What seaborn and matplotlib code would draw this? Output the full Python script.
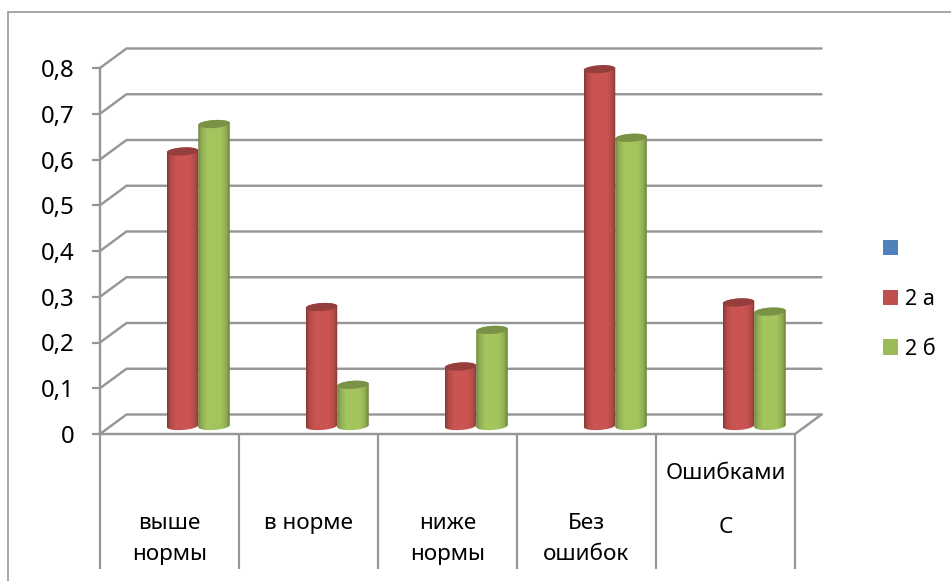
import numpy as np
import pandas as pd
import seaborn as sns
import matplotlib
matplotlib.use("Agg")
import matplotlib.pyplot as plt
from matplotlib.colors import LinearSegmentedColormap, to_rgb
from matplotlib.patches import Patch, PathPatch, Polygon, Rectangle
from matplotlib.path import Path
from matplotlib.transforms import ScaledTranslation

categories = ["выше\nнормы", "в норме", "ниже\nнормы", "Без\nошибок", "Ошибками\nС"]
series_blank = [np.nan, np.nan, np.nan, np.nan, np.nan]
series_2a = [0.60, 0.26, 0.13, 0.78, 0.27]
series_2b = [0.66, 0.09, 0.21, 0.63, 0.25]
series_names = [" ", "2 а", "2 б"]
palette = ["#4F81BD", "#C0504D", "#9BBB59"]
y_ticks = [0, 0.1, 0.2, 0.3, 0.4, 0.5, 0.6, 0.7, 0.8]
y_tick_labels = ["0", "0,1", "0,2", "0,3", "0,4", "0,5", "0,6", "0,7", "0,8"]

GREY = "#969696"
W, H, DPI = 951, 581, 100
px = 72 / DPI

sns.set_theme(style="white")
plt.rcParams["font.family"] = ["Noto Sans", "DejaVu Sans"]
plt.rcParams["text.color"] = "black"

fig = plt.figure(figsize=(W / DPI, H / DPI), dpi=DPI)
fig.patch.set_facecolor("white")
ax = fig.add_axes([100 / W, (H - 434) / H, 695 / W, 366 / H])
ax.set_facecolor("none")

df = pd.DataFrame({
    "category": categories * 3,
    "series": np.repeat(series_names, len(categories)),
    "value": series_blank + series_2a + series_2b,
})
sns.barplot(data=df, x="category", y="value", hue="series", hue_order=series_names,
            palette=palette, width=0.68, gap=0, saturation=1, legend=False, ax=ax, errorbar=None)

xlim = (-0.5, len(categories) - 0.5)
ylim = (0, 0.8)
ax.set_xlim(*xlim)
ax.set_ylim(*ylim)
ax.set_xlabel("")
ax.set_ylabel("")

# Cartesian depth of the pseudo-3D box
dx = 26.5 / 695 * (xlim[1] - xlim[0])
dy = 19.5 / 366 * (ylim[1] - ylim[0])
for t in y_ticks:
    ax.plot([xlim[0], xlim[0] + dx, xlim[1] + dx], [t, t + dy, t + dy], color=GREY,
            lw=2.4 * px, clip_on=False, zorder=1, solid_joinstyle="miter")
ax.plot([xlim[1], xlim[1] + dx], [0, dy], color=GREY, lw=2.4 * px, clip_on=False, zorder=1)

# Cylinders built from the seaborn bars
shift = ax.transData + ScaledTranslation(13 / DPI, 8 / DPI, fig.dpi_scale_trans)
ell_b = 4 / 366 * 0.8
tilt = 1 / 366 * 0.8
t_par = np.linspace(0, 2 * np.pi, 60)
grad = np.linspace(0, 1, 64).reshape(1, -1)
for p in list(ax.patches):
    h = p.get_height()
    p.set_visible(False)
    if not np.isfinite(h) or h <= 0:
        continue
    base = np.array(to_rgb(p.get_facecolor()))
    x0, w = p.get_x(), p.get_width()
    cx = x0 + w / 2
    cmap = LinearSegmentedColormap.from_list("cyl", [
        (0.00, base * 0.70), (0.10, base * 0.93), (0.30, base * 1.06),
        (0.72, base * 1.05), (0.90, base * 0.92), (1.00, base * 0.68)])
    lower = np.linspace(np.pi, 2 * np.pi, 30)
    upper = np.linspace(0, np.pi, 30)
    xs = np.r_[cx + w / 2 * np.cos(lower), cx + w / 2 * np.cos(upper)]
    ys = np.r_[ell_b * np.sin(lower) + tilt * np.cos(lower),
               h + ell_b * np.sin(upper) + tilt * np.cos(upper)]
    im = ax.imshow(grad, cmap=cmap, extent=(x0, x0 + w, -ell_b * 2, h + ell_b * 2),
                   aspect="auto", zorder=3, interpolation="bilinear", origin="lower")
    im.set_transform(shift)
    clip = PathPatch(Path(np.c_[xs, ys], closed=False), transform=shift)
    im.set_clip_path(clip)
    top = np.c_[cx + w / 2 * np.cos(t_par), h + ell_b * np.sin(t_par) + tilt * np.cos(t_par)]
    ax.add_patch(Polygon(top, closed=True, facecolor=base * 0.78, edgecolor="none",
                         transform=shift, zorder=3.1, clip_on=False))
ax.set_xlim(*xlim)
ax.set_ylim(*ylim)

# Axes and tick marks
for s in ["top", "right"]:
    ax.spines[s].set_visible(False)
for s in ["left", "bottom"]:
    ax.spines[s].set_color(GREY)
    ax.spines[s].set_linewidth(2.4 * px)
    ax.spines[s].set_zorder(2)

ax.set_yticks(y_ticks, y_tick_labels)
ax.tick_params(axis="y", left=True, length=8 * px, width=2.2 * px, color=GREY, pad=17 * px,
               labelsize=24 * px, labelcolor="black")

ax.set_xticks(np.arange(len(categories) + 1) - 0.5, [""] * (len(categories) + 1))
ax.tick_params(axis="x", which="major", bottom=True, length=135 * px, width=2.2 * px, color=GREY)
ax.set_xticks(np.arange(len(categories)), categories, minor=True)
ax.tick_params(axis="x", which="minor", bottom=True, length=0, labelsize=22.5 * px,
               labelcolor="black", pad=79 * px)
minor = ax.xaxis.get_minor_ticks()
for lab in ax.get_xticklabels(minor=True):
    lab.set_linespacing(1.6)
last = minor[-1]
last.set_pad(29 * px)
last.label1.set_linespacing(3.06)

# Legend
handles = [Patch(facecolor=c, edgecolor="none") for c in palette]
leg = fig.legend(handles, series_names, loc="upper left",
                 bbox_to_anchor=(883 / W, 1 - 239 / H), borderaxespad=0, borderpad=0, frameon=False,
                 prop={"size": 21.5 * px}, handlelength=0.72, handleheight=0.72, handletextpad=0.3,
                 labelspacing=1.34)

# Outer chart frame, open to the right and the bottom of the crop
fig.add_artist(Rectangle((7.5 / W, -0.2), 1.2, 0.2 + (H - 12) / H,
                         transform=fig.transFigure, facecolor="none", edgecolor="#8C8C8C",
                         lw=1.5 * px, zorder=0))

fig.savefig("out.png", dpi=DPI, facecolor="white")
